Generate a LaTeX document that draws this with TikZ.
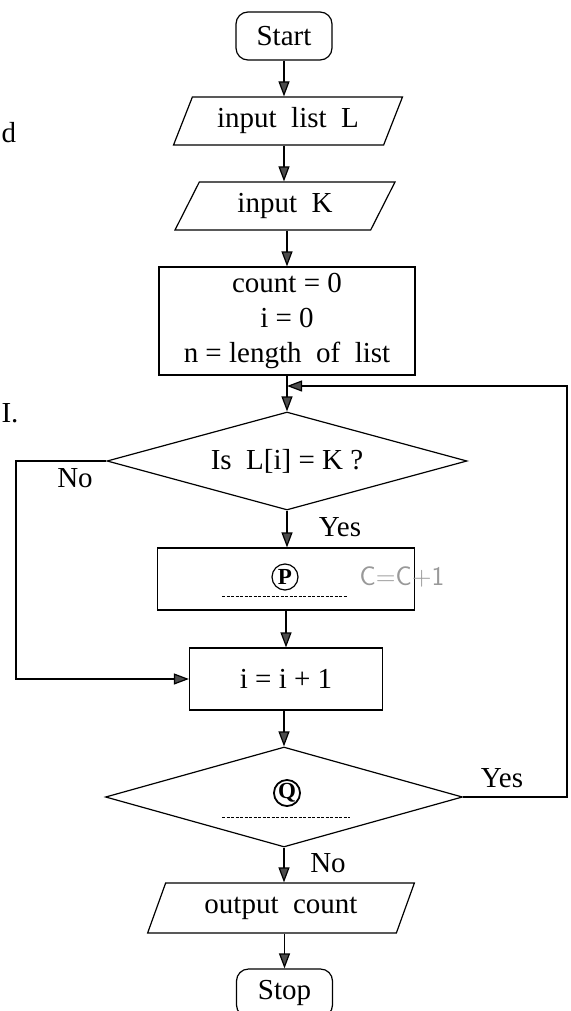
\documentclass[tikz,border=0pt]{standalone}
\usepackage{fontspec}
\setmainfont{Liberation Serif}
\usetikzlibrary{shapes.geometric,arrows.meta,calc}
\begin{document}
\begin{tikzpicture}[x=1pt,y=-1pt,
  every node/.style={font=\fontsize{29}{35}\selectfont},
  line/.style={line width=1.2pt},
  arr/.style={line, -{Triangle[length=15pt,width=11pt,fill=black!70]}},
  term/.style={draw, line width=1.2pt, rectangle, rounded corners=12pt, minimum width=96pt, minimum height=48pt, inner sep=0pt},
  io/.style={draw, line width=1.2pt, trapezium, trapezium left angle=62, trapezium right angle=118, trapezium stretches=true, minimum height=48pt, inner sep=0pt},
  proc/.style={draw, line width=1.2pt, rectangle, inner sep=0pt},
  dec/.style={draw, line width=1.2pt, diamond, shape aspect=3.6, inner sep=0pt},
  lbl/.style={inner sep=0pt},
  circ/.style={draw, circle, line width=1.2pt, inner sep=0pt, minimum size=26pt, font=\fontsize{23}{24}\selectfont\bfseries},
  blank/.style={line width=0.9pt, dash pattern=on 3pt off 1.5pt},
  hand/.style={inner sep=0pt, text=black!40, font=\fontsize{27}{28}\selectfont\sffamily},
]
\useasboundingbox (0,0) rectangle (570,1011);

% nodes
\node[term] (start) at (284,36) {Start};
\node[io, minimum width=229pt] (inL) at (288,121) {input\ \ list\ \ L};
\node[io, minimum width=220pt] (inK) at (285,206) {input\ \ K};
\node[proc, minimum width=256pt, minimum height=108pt, align=center] (init) at (287,321) {count = 0\\ i = 0\\ n = length\ \ of\ \ list};
\node[dec, minimum width=360pt, minimum height=98pt] (d1) at (287,461) {Is\ \ L[i] = K ?};
\node[proc, minimum width=257pt, minimum height=62pt] (pbox) at (286,579) {};
\node[circ] (pc) at (285,577) {P};
\node[hand] (hw) at (402,577) {C=C+1};
\node[proc, minimum width=193pt, minimum height=62pt] (inc) at (286,679) {i = i + 1};
\node[dec, minimum width=357pt, minimum height=100pt] (d2) at (284,797) {};
\node[circ, line width=1.8pt] (qc) at (287,793) {Q};
\node[io, minimum width=267pt, minimum height=50pt] (out) at (281,908) {output\ \ count};
\node[term] (stop) at (284.5,993) {Stop};

% dashed blanks
\draw[blank] ($(pbox.center)+(-64,17)$) -- ($(pbox.center)+(62,17)$);
\draw[blank] ($(d2.center)+(-62,20)$) -- ($(d2.center)+(66,20)$);

% labels
\node[lbl] (yes1) at (340,527) {Yes};
\node[lbl] (no1) at (75,478) {No};
\node[lbl] (yes2) at (502,778) {Yes};
\node[lbl] (no2) at (328,863) {No};
\node[lbl] (pd) at (9,133) {d};
\node[lbl] (pi) at (10,413) {I.};

% connectors
\coordinate (nl) at (16,461);
\coordinate (xr) at (567,797);
\coordinate (join) at (287,386);
\draw[arr] (start.south) -- (start.south |- inL.north);
\draw[arr] (inL.south -| start.south) -- (start.south |- inK.north);
\draw[arr] (inK.south -| init.north) -- (init.north);
\draw[arr] (init.south) -- (d1.north);
\draw[arr] (d1.south) -- (d1.south |- pbox.north);
\draw[arr] (pbox.south) -- (pbox.south |- inc.north);
\draw[arr] (inc.south) -- (inc.south -| d2.north) -- (d2.north);
\draw[arr] (d2.south) -- (d2.south |- out.north);
\draw[arr] (out.south -| stop.north) -- (stop.north);
\draw[arr] (d1.west) -- (nl) |- (inc.west);
\draw[arr] (d2.east) -- (xr) |- (join);
\end{tikzpicture}
\end{document}
